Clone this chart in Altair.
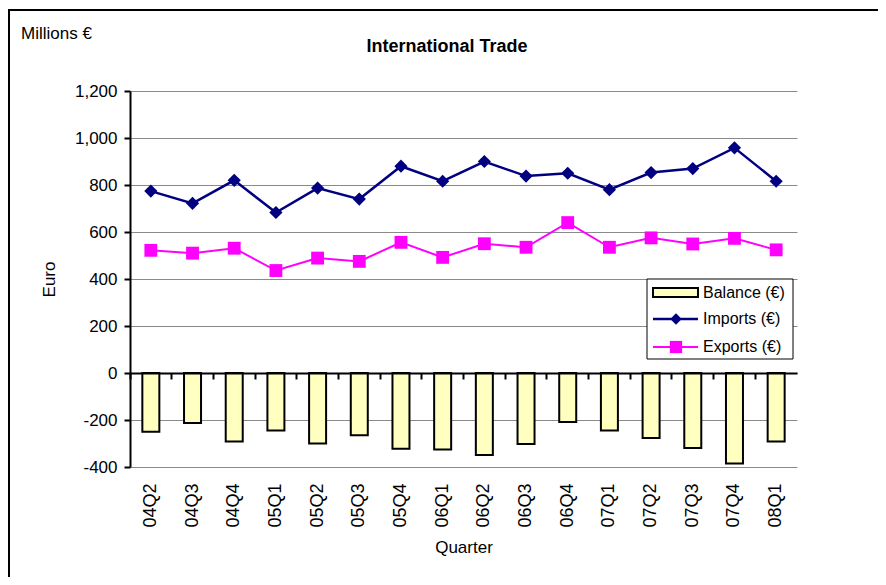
import altair as alt
import pandas as pd

quarters = ["04Q2", "04Q3", "04Q4", "05Q1", "05Q2", "05Q3", "05Q4", "06Q1",
            "06Q2", "06Q3", "06Q4", "07Q1", "07Q2", "07Q3", "07Q4", "08Q1"]
imports = [774, 722, 820, 683, 787, 740, 880, 816, 900, 838, 850, 780, 853, 870, 958, 816]
exports = [522, 510, 531, 436, 489, 475, 556, 492, 550, 535, 640, 535, 575, 549, 573, 524]
balance = [-250, -213, -291, -245, -300, -265, -322, -325, -349, -302, -209, -245, -277, -319, -385, -291]
y_ticks = [-400, -200, 0, 200, 400, 600, 800, 1000, 1200]
legend_labels = ["Balance (€)", "Imports (€)", "Exports (€)"]

df = pd.DataFrame({"Quarter": quarters, "Imports": imports,
                   "Exports": exports, "Balance": balance})
one = pd.DataFrame({"a": [0]})

FONT = "Liberation Sans"
W, H = 667, 376
NAVY = "#000080"
MAGENTA = "#FF00FF"
YELLOW = "#FFFFC0"

xsc = alt.Scale(domain=quarters, paddingInner=0, paddingOuter=0)
ysc = alt.Scale(domain=[-400, 1200], nice=False, zero=False)

y_axis = alt.Axis(values=y_ticks, grid=True, gridColor="#8a8a8a", gridWidth=1,
                  labelExpr="datum.value < 0 ? '-' + format(-datum.value, ',d') : format(datum.value, ',d')",
                  domainColor="black", domainWidth=2, tickColor="black", tickWidth=2,
                  tickSize=6, labelFont=FONT, labelFontSize=17, labelColor="black",
                  labelPadding=7, title="Euro", titleFont=FONT, titleFontSize=17,
                  titleFontWeight="normal", titleColor="black", titleX=-81, titleY=188,
                  titleAngle=270, titleAlign="center", titleBaseline="middle")

x_bottom = alt.X("Quarter:N", scale=xsc, sort=quarters,
                 axis=alt.Axis(orient="bottom", labelAngle=270, ticks=False, domain=False,
                               labelPadding=16, labelFont=FONT, labelFontSize=18,
                               labelColor="black", title="Quarter", titleFont=FONT,
                               titleFontSize=17, titleFontWeight="normal", titleColor="black",
                               titleY=85, titleBaseline="alphabetic", grid=False))
x_none = alt.X("Quarter:N", scale=xsc, sort=quarters, axis=None)
x_zero = alt.X("Quarter:N", scale=xsc, sort=quarters,
               axis=alt.Axis(orient="bottom", offset=-94, labels=False, title=None,
                             domainColor="black", domainWidth=2, ticks=True,
                             tickColor="black", tickWidth=2, tickSize=6, bandPosition=0,
                             grid=False, zindex=1))

base = alt.Chart(df)

bars = base.mark_bar(fill=YELLOW, stroke="black", strokeWidth=2, size=17).encode(
    x=x_bottom,
    y=alt.Y("Balance:Q", scale=ysc, axis=y_axis),
    y2=alt.datum(0),
)

imp = base.mark_line(color=NAVY, strokeWidth=2.5).encode(
    x=x_none, y=alt.Y("Imports:Q", scale=ysc, axis=y_axis))
imp_pts = base.mark_point(shape="diamond", size=175, filled=True, color=NAVY, opacity=1).encode(
    x=x_none, y=alt.Y("Imports:Q", scale=ysc, axis=y_axis))
exp = base.mark_line(color=MAGENTA, strokeWidth=2).encode(
    x=x_none, y=alt.Y("Exports:Q", scale=ysc, axis=y_axis))
exp_pts = base.mark_point(shape="square", size=165, filled=True, color=MAGENTA, opacity=1).encode(
    x=x_none, y=alt.Y("Exports:Q", scale=ysc, axis=y_axis))

zero_axis = base.mark_point(opacity=0).encode(
    x=x_zero, y=alt.Y("Exports:Q", scale=ysc, axis=y_axis))

oc = alt.Chart(one)
frame = oc.mark_rect(fillOpacity=0, stroke="black", strokeWidth=2).encode(
    x=alt.value(-121), x2=alt.value(900), y=alt.value(-81), y2=alt.value(700))
units = oc.mark_text(text="Millions €", font=FONT, fontSize=17, align="left",
                     baseline="alphabetic", color="black").encode(
    x=alt.value(-109), y=alt.value(-52))
title = oc.mark_text(text="International Trade", font=FONT, fontSize=18, fontWeight="bold",
                     align="center", baseline="alphabetic", color="black").encode(
    x=alt.value(317), y=alt.value(-39))

leg_box = oc.mark_rect(fill="white", stroke="black", strokeWidth=1).encode(
    x=alt.value(517), x2=alt.value(663), y=alt.value(188), y2=alt.value(268))
leg_bal = oc.mark_rect(fill=YELLOW, stroke="black", strokeWidth=2).encode(
    x=alt.value(523), x2=alt.value(568), y=alt.value(197), y2=alt.value(206))
leg_imp_line = oc.mark_rule(color=NAVY, strokeWidth=2.5).encode(
    x=alt.value(523), x2=alt.value(568), y=alt.value(228))
leg_imp_pt = oc.mark_point(shape="diamond", size=130, filled=True, color=NAVY, opacity=1).encode(
    x=alt.value(546), y=alt.value(228))
leg_exp_line = oc.mark_rule(color=MAGENTA, strokeWidth=2).encode(
    x=alt.value(523), x2=alt.value(568), y=alt.value(256))
leg_exp_pt = oc.mark_point(shape="square", size=150, filled=True, color=MAGENTA, opacity=1).encode(
    x=alt.value(546), y=alt.value(256))
leg_texts = [
    oc.mark_text(text=lbl, font=FONT, fontSize=16, align="left", baseline="middle",
                 color="black").encode(x=alt.value(573), y=alt.value(yy))
    for lbl, yy in zip(legend_labels, [202, 228, 256])
]

chart = alt.layer(
    frame, units, title, bars, zero_axis, imp, imp_pts, exp, exp_pts,
    leg_box, leg_bal, leg_imp_line, leg_imp_pt, leg_exp_line, leg_exp_pt, *leg_texts
).resolve_axis(x="independent").properties(
    width=W, height=H,
    padding={"left": 122, "top": 83, "right": 81, "bottom": 110},
    autosize=alt.AutoSizeParams(type="none"),
    background="white",
).configure_view(stroke=None)

chart.save("out.html", embed_options={"renderer": "svg", "actions": False})
